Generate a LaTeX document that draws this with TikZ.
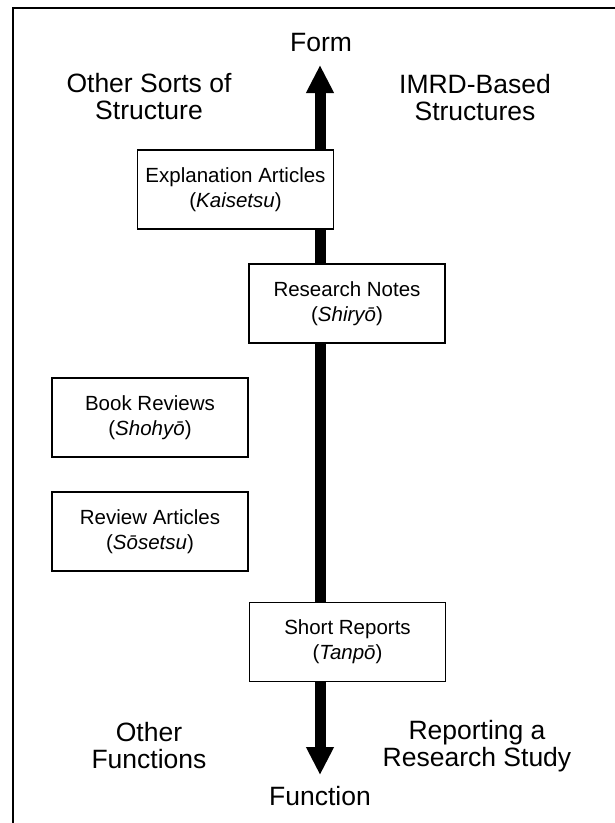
\documentclass[tikz,border=0pt]{standalone}
\usepackage{fontspec}
\setmainfont{Liberation Sans}
\usetikzlibrary{arrows.meta}
\begin{document}
\begin{tikzpicture}[x=1pt,y=-1pt,
  lbl/.style={font=\fontsize{26.5}{27}\selectfont, align=center, anchor=base, inner sep=0pt},
  genre/.style={draw=black, line width=1.8pt, fill=white, minimum width=196pt, minimum height=79pt,
    font=\fontsize{20.5}{25}\selectfont, align=center, inner sep=0pt},
  axis/.style={line width=11pt, -{Triangle[length=28pt,width=26pt]}}
]
\useasboundingbox (0,0) rectangle (615,823);
% outer frame (only top and left edges fall inside the picture)
\draw[line width=2pt] (13,850) -- (13,8) -- (640,8);
% axis
\coordinate (mid) at (320,420);
\coordinate (top) at (320,65);
\coordinate (bot) at (320,775);
\draw[axis] (mid) -- (top);
\draw[axis] (mid) -- (bot);
% axis labels (base anchor = baseline of the last line)
\node[lbl] (form) at (321,51) {Form};
\node[lbl] (func) at (320,805) {Function};
\node[lbl] (other) at (149,119) {Other Sorts of\\Structure};
\node[lbl] (imrd) at (475,120) {IMRD-Based\\Structures};
\node[lbl] (otherf) at (149,768) {Other\\Functions};
\node[lbl] (report) at (477,766) {Reporting a\\Research Study};
% genre boxes
\node[genre] (expl) at (235.5,189.5) {Explanation Articles\\(\textit{Kaisetsu})};
\node[genre] (notes) at (347,303.5) {Research Notes\\(\textit{Shiryō})};
\node[genre] (book) at (150,417.5) {Book Reviews\\(\textit{Shohyō})};
\node[genre] (review) at (150,531.5) {Review Articles\\(\textit{Sōsetsu})};
\node[genre] (short) at (347.5,642) {Short Reports\\(\textit{Tanpō})};
\end{tikzpicture}
\end{document}
